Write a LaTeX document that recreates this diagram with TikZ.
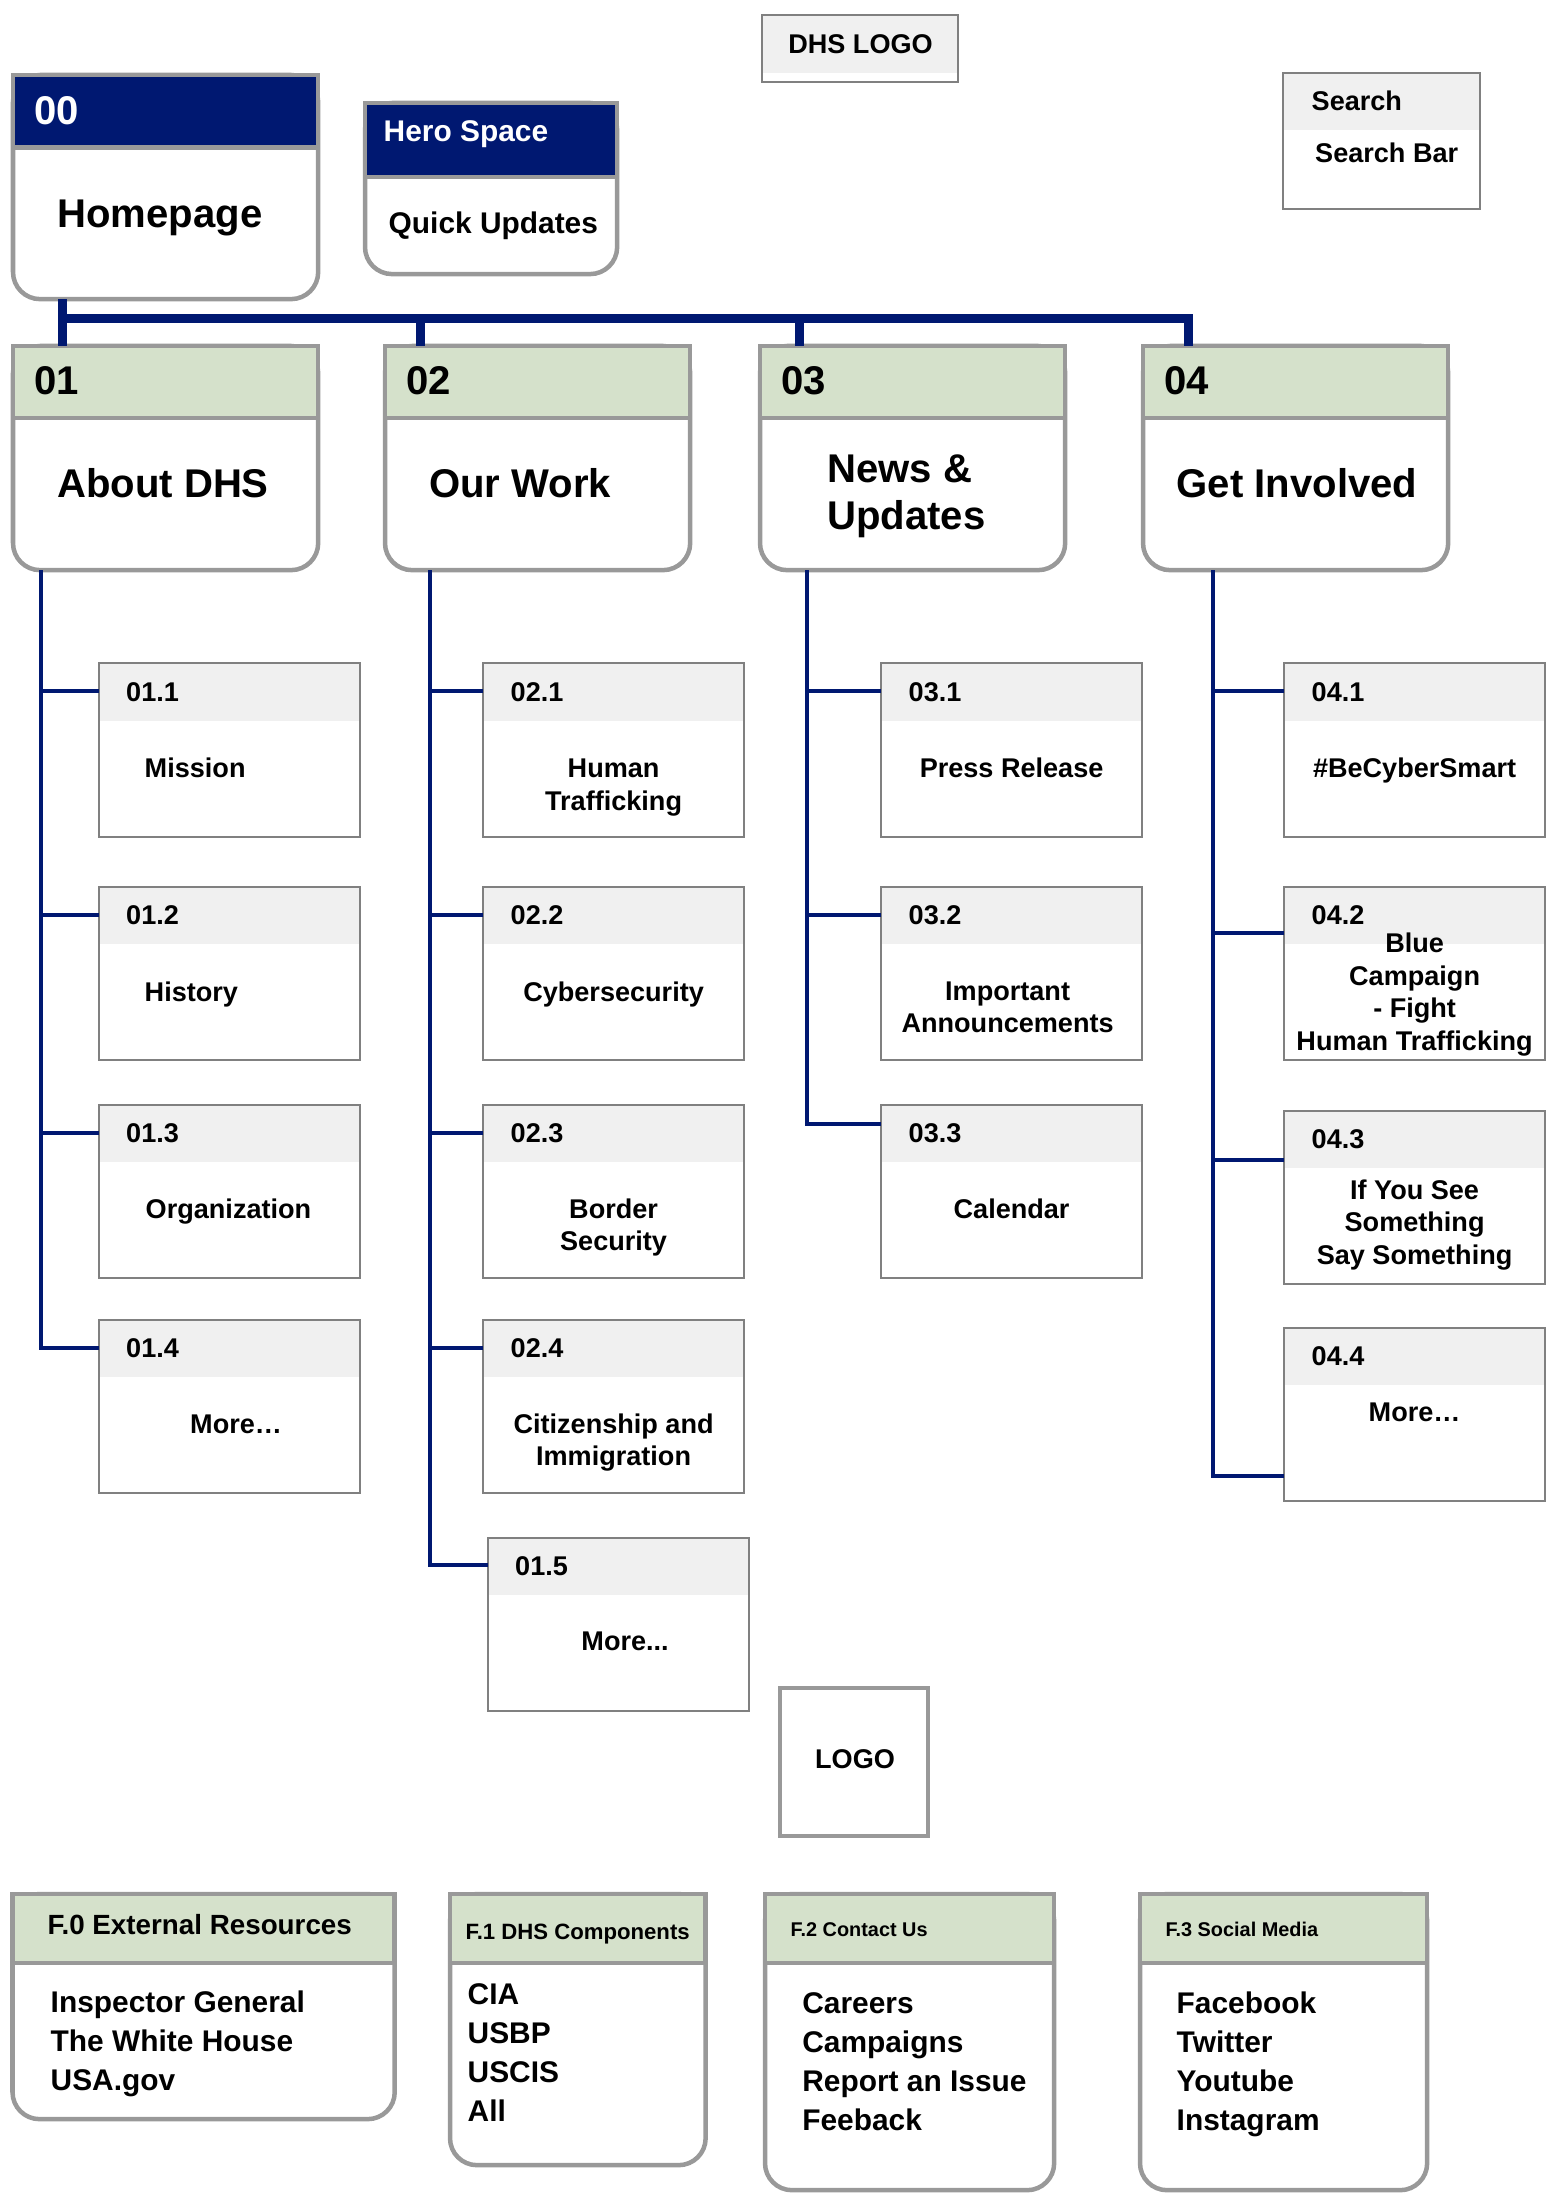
\documentclass[tikz,border=0pt]{standalone}
\usepackage{fontspec}
\setmainfont{Liberation Sans}

\definecolor{navy}{RGB}{0,24,113}
\definecolor{headgreen}{RGB}{213,225,203}
\definecolor{headgray}{RGB}{240,240,240}
\definecolor{framegray}{RGB}{153,153,153}
\definecolor{subgray}{RGB}{128,128,128}

\tikzset{
	headh/.store in=\headh, headh=0.57cm,
	boxframe/.style={draw=framegray, line width=0.045cm, inner sep=0pt, outer sep=0pt, anchor=north west},
	pagebox/.style={boxframe, fill=white, minimum width=3.05cm, minimum height=2.24cm, rounded corners=0.27cm},
	pagehead/.style={boxframe, fill=headgreen, minimum width=3.05cm, minimum height=0.72cm},
	subbox/.style={draw=subgray, line width=0.02cm, fill=white, inner sep=0pt, outer sep=0pt, anchor=north west, minimum width=2.61cm, minimum height=1.73cm,
		path picture={\fill[headgray] (path picture bounding box.north west) rectangle ([yshift=-\headh]path picture bounding box.north east);}},
	bus/.style={draw=navy, line width=0.09cm},
	twig/.style={draw=navy, line width=0.04cm},
	pagetxt/.style={font=\fontsize{11.4}{13.6}\selectfont\bfseries, inner sep=0pt},
	midtxt/.style={font=\fontsize{8.5}{11}\selectfont\bfseries, inner sep=0pt},
	itemtxt/.style={font=\fontsize{7.7}{9.25}\selectfont\bfseries, inner sep=0pt},
	numtxt/.style={itemtxt, anchor=base west},
}

% section page: name, corner, number
\newcommand{\mainpage}[3]{%
	\node[pagebox] (#1) at (#2) {};
	\node[pagehead] (#1h) at (#1.north west) {};
	\node[pagetxt, anchor=base west] (#1n) at ([xshift=0.205cm, yshift=-0.48cm]#1.north west) {#3};
}
% sub page: [branch drop], name, corner, number
\newcommand{\subpage}[4][0.275cm]{%
	\node[subbox] (#2) at (#3) {};
	\node[numtxt] (#2n) at ([xshift=0.27cm, yshift=-0.375cm]#2.north west) {#4};
	\coordinate (#2b) at ([yshift=-#1]#2.north west);
}

\begin{document}
\begin{tikzpicture}[x=0.01cm, y=-0.01cm]
	%%%%% START %%%%%
	\useasboundingbox (0,0) rectangle (1555,2207);

	\node[pagebox] (hp) at (13,75) {};
	\node[pagehead, fill=navy, minimum height=0.725cm] (hph) at (hp.north west) {};
	\node[pagetxt, text=white, anchor=base west] (hpn) at (33.5,124.4) {00};
	\node[pagetxt, anchor=base] (hpt) at (160,227.7) {Homepage};

	\node[pagebox, minimum width=2.52cm, minimum height=1.71cm] (hs) at (365,103) {};
	\node[pagehead, fill=navy, minimum width=2.52cm, minimum height=0.74cm] (hsh) at (hs.north west) {};
	\node[midtxt, text=white, anchor=base west] (hsn) at (383,141.6) {Hero Space};
	\node[midtxt, anchor=base west] (hst) at (388,233.4) {Quick Updates};

	\node[subbox, headh=0.58cm, minimum width=1.96cm, minimum height=0.67cm] (dl) at (762,15) {};
	\node[itemtxt, anchor=base] (dlt) at (860.5,53.3) {DHS LOGO};

	\node[subbox, minimum width=1.97cm, minimum height=1.36cm] (sb) at (1283,73) {};
	\node[numtxt] (sbn) at (1311,111) {Search};
	\node[numtxt] (sbt) at (1314.5,162.6) {Search Bar};

	\mainpage{n01}{13,346}{01}
	\mainpage{n02}{385,346}{02}
	\mainpage{n03}{760,346}{03}
	\mainpage{n04}{1143,346}{04}
	\node[pagetxt, anchor=base] (n01t) at (163,497.5) {About DHS};
	\node[pagetxt, anchor=base west] (n02t) at (428.6,497.5) {Our Work};
	\node[pagetxt, anchor=base west, align=left] (n03t) at (826.5,530) {News \&\\Updates};
	\node[pagetxt, anchor=base] (n04t) at (1297,497.5) {Get Involved};

	\coordinate (hub) at (62.5,319);
	\coordinate (d02) at ([xshift=0.35cm]n02.north west);
	\coordinate (d03) at ([xshift=0.39cm]n03.north west);
	\draw[bus] ([xshift=0.495cm]hp.south west) -- ([xshift=0.495cm]n01.north west);
	\draw[bus] (hub) -| ([xshift=0.45cm]n04.north west);
	\draw[bus] (d02) -- (d02 |- hub);
	\draw[bus] (d03) -- (d03 |- hub);

	\subpage{s011}{98.5,663.5}{01.1}
	\subpage{s012}{98.5,887}{01.2}
	\subpage{s013}{98.5,1105}{01.3}
	\subpage{s014}{98.5,1320}{01.4}
	\node[itemtxt, anchor=base west] at ([xshift=0.455cm, yshift=-1.14cm]s011.north west) {Mission};
	\node[itemtxt, anchor=base west] at ([xshift=0.455cm, yshift=-1.14cm]s012.north west) {History};
	\node[itemtxt, anchor=base west] at ([xshift=0.465cm, yshift=-1.13cm]s013.north west) {Organization};
	\node[itemtxt, anchor=base] at ([xshift=0.07cm, yshift=-1.13cm]s014.north) {More…};

	\subpage{s021}{483,663.5}{02.1}
	\subpage{s022}{483,887}{02.2}
	\subpage{s023}{483,1105}{02.3}
	\subpage{s024}{483,1320}{02.4}
	\subpage{s025}{487.5,1537.5}{01.5}
	\node[itemtxt, anchor=base, align=center] at ([yshift=-1.465cm]s021.north) {Human\\Trafficking};
	\node[itemtxt, anchor=base] at ([yshift=-1.14cm]s022.north) {Cybersecurity};
	\node[itemtxt, anchor=base, align=center] at ([yshift=-1.455cm]s023.north) {Border\\Security};
	\node[itemtxt, anchor=base, align=center] at ([yshift=-1.455cm]s024.north) {Citizenship and\\Immigration};
	\node[itemtxt, anchor=base] at ([xshift=0.07cm, yshift=-1.125cm]s025.north) {More...};

	\subpage{s031}{881,663.5}{03.1}
	\subpage{s032}{881,887}{03.2}
	\subpage[0.19cm]{s033}{881,1105}{03.3}
	\node[itemtxt, anchor=base] at ([yshift=-1.14cm]s031.north) {Press Release};
	\node[itemtxt, anchor=base, align=center] at ([xshift=-0.04cm, yshift=-1.455cm]s032.north) {Important\\Announcements};
	\node[itemtxt, anchor=base] at ([yshift=-1.13cm]s033.north) {Calendar};

	\subpage{s041}{1284,663.5}{04.1}
	\subpage[0.46cm]{s042}{1284,887}{04.2}
	\subpage[0.485cm]{s043}{1284,1111}{04.3}
	\subpage[1.48cm]{s044}{1284,1328}{04.4}
	\node[itemtxt, anchor=base] at ([yshift=-1.14cm]s041.north) {\#BeCyberSmart};
	\node[itemtxt, anchor=base, align=center] at ([yshift=-1.63cm]s042.north) {Blue\\Campaign\\- Fight\\Human Trafficking};
	\node[itemtxt, anchor=base, align=center] at ([yshift=-1.53cm]s043.north) {If You See\\Something\\Say Something};
	\node[itemtxt, anchor=base] at ([yshift=-0.934cm]s044.north) {More…};

	\coordinate (t1) at ([xshift=0.28cm]n01.south west);
	\coordinate (t2) at ([xshift=0.45cm]n02.south west);
	\coordinate (t3) at ([xshift=0.47cm]n03.south west);
	\coordinate (t4) at ([xshift=0.70cm]n04.south west);
	\draw[twig] (t1) |- (s014b);
	\foreach \b in {s011b,s012b,s013b} \draw[twig] (\b) -- (\b -| t1);
	\draw[twig] (t2) |- (s025b);
	\foreach \b in {s021b,s022b,s023b,s024b} \draw[twig] (\b) -- (\b -| t2);
	\draw[twig] (t3) |- (s033b);
	\foreach \b in {s031b,s032b} \draw[twig] (\b) -- (\b -| t3);
	\draw[twig] (t4) |- (s044b);
	\foreach \b in {s041b,s042b,s043b} \draw[twig] (\b) -- (\b -| t4);

	\node[boxframe, minimum width=1.48cm, minimum height=1.48cm] (lg) at (780,1688) {};
	\node[itemtxt, anchor=base] (lgt) at (855,1768.6) {LOGO};

	\node[pagebox, minimum width=3.82cm, minimum height=2.25cm] (f0) at (12.5,1894) {};
	\node[pagehead, minimum width=3.82cm, minimum height=0.69cm] (f0h) at (f0.north west) {};
	\node[itemtxt, font=\fontsize{7.9}{9}\selectfont\bfseries, anchor=base west] (f0n) at (47,1934) {F.0 External Resources};
	\node[midtxt, align=left, anchor=base west] (f0t) at (50,2090) {Inspector General\\The White House\\USA.gov};

	\node[pagebox, minimum width=2.555cm, minimum height=2.71cm] (f1) at (450,1894) {};
	\node[pagehead, minimum width=2.555cm, minimum height=0.69cm] (f1h) at (f1.north west) {};
	\node[itemtxt, font=\fontsize{6.3}{7.5}\selectfont\bfseries, anchor=base west] (f1n) at (465,1939.3) {F.1 DHS Components};
	\node[midtxt, align=left, anchor=base west] (f1t) at (467,2121) {CIA\\USBP\\USCIS\\All};

	\node[pagebox, minimum width=2.89cm, minimum height=2.96cm] (f2) at (765,1894) {};
	\node[pagehead, minimum width=2.89cm, minimum height=0.69cm] (f2h) at (f2.north west) {};
	\node[itemtxt, font=\fontsize{5.65}{7}\selectfont\bfseries, anchor=base west] (f2n) at (790,1936) {F.2 Contact Us};
	\node[midtxt, align=left, anchor=base west] (f2t) at (801.6,2130) {Careers\\Campaigns\\Report an Issue\\Feeback};

	\node[pagebox, minimum width=2.87cm, minimum height=2.96cm] (f3) at (1140,1894) {};
	\node[pagehead, minimum width=2.87cm, minimum height=0.69cm] (f3h) at (f3.north west) {};
	\node[itemtxt, font=\fontsize{5.65}{7}\selectfont\bfseries, anchor=base west] (f3n) at (1165,1936) {F.3 Social Media};
	\node[midtxt, align=left, anchor=base west] (f3t) at (1176,2130) {Facebook\\Twitter\\Youtube\\Instagram};

	%%%%% END %%%%%
\end{tikzpicture}
\end{document}
